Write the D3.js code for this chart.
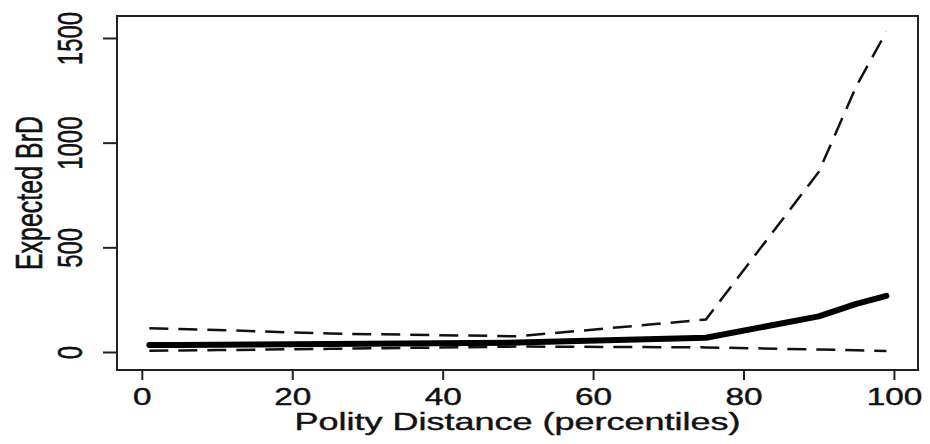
<!DOCTYPE html>
<html>
<head>
<meta charset="utf-8">
<script src="https://cdn.jsdelivr.net/npm/d3@7"></script>
<style>
    body { margin: 0; background: #fff; }
    text { font-family: "Liberation Sans", Arial, sans-serif; fill: #111; }
</style>
</head>
<body>
<script>
//percentile points along polity distance
var percentiles = [1, 5, 10, 25, 50, 75, 90, 95, 99];

//expected BrD - point estimate and the two bounds
var expected = [33, 34, 35, 38, 45, 68, 170, 230, 268];
var upperBound = [114, 110, 105, 88, 75, 155, 860, 1270, 1530];
var lowerBound = [6, 7, 9, 15, 26, 22, 12, 8, 5];

var xTicks = [0, 20, 40, 60, 80, 100],
    yTicks = [0, 500, 1000, 1500];

//begin script when window loads
window.onload = drawChart();

function drawChart(){
    var width = 930,
        height = 444;

    //the reference image is stretched sideways, so text gets stretched too
    var stretch = 1.45;

    var svg = d3.select("body")
        .append("svg")
        .attr("width", width)
        .attr("height", height);

    //plot frame in pixels
    var left = 117, right = 918, top = 16, bottom = 370;

    var x = d3.scaleLinear()
        .domain([-3.3, 103.2])
        .range([left, right]);

    var y = d3.scaleLinear()
        .domain([-86, 1605])
        .range([bottom, top]);

    //x axis - ticks hang below the frame
    var xAxis = svg.append("g")
        .attr("transform", "translate(0," + bottom + ")")
        .call(d3.axisBottom(x).tickValues(xTicks).tickSize(10).tickSizeOuter(0));
    xAxis.select(".domain").remove();
    xAxis.selectAll("line").attr("stroke", "#222").attr("stroke-width", 2);
    xAxis.selectAll("text")
        .attr("y", 35)
        .attr("dy", 0)
        .attr("font-size", 23)
        .attr("fill", "#111")
        .attr("stroke", "#111")
        .attr("stroke-width", 0.4)
        .attr("transform", "scale(" + stretch + ",1)");

    //y axis - labels turned sideways like base R
    var yAxis = svg.append("g")
        .attr("transform", "translate(" + left + ",0)")
        .call(d3.axisLeft(y).tickValues(yTicks).tickFormat(d3.format("d")).tickSize(14).tickSizeOuter(0));
    yAxis.select(".domain").remove();
    yAxis.selectAll("line").attr("stroke", "#222").attr("stroke-width", 2);
    yAxis.selectAll("text")
        .attr("x", 0)
        .attr("y", 0)
        .attr("dy", 0)
        .attr("font-size", 24)
        .attr("fill", "#111")
        .attr("stroke", "#111")
        .attr("stroke-width", 0.4)
        .attr("text-anchor", "middle")
        .attr("transform", "translate(-35,0) scale(" + stretch + ",1) rotate(-90)");

    //box round the plot
    svg.append("rect")
        .attr("x", left)
        .attr("y", top)
        .attr("width", right - left)
        .attr("height", bottom - top)
        .attr("fill", "none")
        .attr("stroke", "#222")
        .attr("stroke-width", 2);

    //line generator
    function lineFor(values){
        return d3.line()
            .x(function(d, i){ return x(percentiles[i]); })
            .y(function(d){ return y(d); })(values);
    }

    //dashed bounds
    [upperBound, lowerBound].forEach(function(series){
        svg.append("path")
            .attr("d", lineFor(series))
            .attr("fill", "none")
            .attr("stroke", "#111")
            .attr("stroke-width", 2.5)
            .attr("stroke-dasharray", "19,10");
    });

    //thick expected line
    svg.append("path")
        .attr("d", lineFor(expected))
        .attr("fill", "none")
        .attr("stroke", "#000")
        .attr("stroke-width", 6)
        .attr("stroke-linejoin", "round")
        .attr("stroke-linecap", "round");

    //axis titles
    svg.append("text")
        .attr("text-anchor", "middle")
        .attr("font-size", 24)
        .attr("stroke", "#111")
        .attr("stroke-width", 0.4)
        .attr("transform", "translate(" + ((left + right) / 2) + ",430) scale(" + (stretch + 0.05) + ",1)")
        .text("Polity Distance (percentiles)");

    svg.append("text")
        .attr("text-anchor", "middle")
        .attr("font-size", 25)
        .attr("stroke", "#111")
        .attr("stroke-width", 0.4)
        .attr("transform", "translate(42," + ((top + bottom) / 2) + ") scale(" + stretch + ",1) rotate(-90)")
        .text("Expected BrD");
};
</script>
</body>
</html>
